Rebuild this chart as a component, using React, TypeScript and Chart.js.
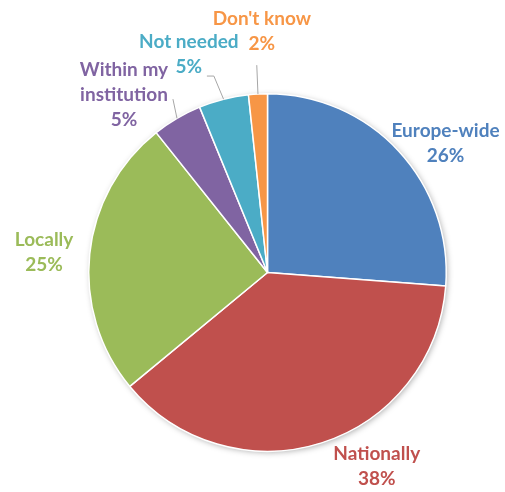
import React, { useEffect, useRef } from "react";
import { Chart, registerables } from "chart.js";

Chart.register(...registerables);

const categories = ["Europe-wide", "Nationally", "Locally", "Within my institution", "Not needed", "Don't know"];
const labelLines = [["Europe-wide"], ["Nationally"], ["Locally"], ["Within my", "institution"], ["Not needed"], ["Don't know"]];
const values = [26.2, 37.8, 25.3, 4.5, 4.5, 1.7];
const colors = ["#4F81BD", "#C0504D", "#9BBB59", "#8064A2", "#4BACC6", "#F79646"];

// label block centres, in units of the pie radius, relative to the pie centre
const labelLayout = [
  [0.996, -0.725],
  [0.611, 1.085],
  [-1.25, -0.11],
  [-0.803, -0.993],
  [-0.44, -1.222],
  [-0.032, -1.35],
];
// leader line points (radius units) from slice edge outwards; empty = none
const leaderLayout: number[][][] = [
  [],
  [],
  [],
  [[-0.529, -0.97]],
  [[-0.3, -1.099], [-0.339, -1.099]],
  [[-0.06, -1.16]],
];

const FONT = "bold 19px Lato";
const LINE_H = 25;

const labelPlugin = {
  id: "pieLabels",
  beforeDatasetsDraw(chart: any) {
    const meta = chart.getDatasetMeta(0);
    const a = meta.data[0];
    if (!a) return;
    const { x, y, outerRadius } = a.getProps(["x", "y", "outerRadius"], true);
    const ctx = chart.ctx;
    ctx.save();
    ctx.shadowColor = "rgba(0,0,0,0.35)";
    ctx.shadowBlur = 6;
    ctx.shadowOffsetX = 1.5;
    ctx.shadowOffsetY = 1.5;
    ctx.fillStyle = "#ffffff";
    ctx.beginPath();
    ctx.arc(x, y, outerRadius - 0.5, 0, Math.PI * 2);
    ctx.fill();
    ctx.restore();
  },
  afterDatasetsDraw(chart: any) {
    const meta = chart.getDatasetMeta(0);
    const ctx = chart.ctx;
    const total = values.reduce((s, v) => s + v, 0);
    ctx.save();
    meta.data.forEach((arc: any, i: number) => {
      const { x, y, startAngle, endAngle, outerRadius } = arc.getProps(
        ["x", "y", "startAngle", "endAngle", "outerRadius"],
        true
      );
      const R = outerRadius;
      const mid = (startAngle + endAngle) / 2;
      const pts = leaderLayout[i];
      if (pts.length) {
        ctx.strokeStyle = "#A6A6A6";
        ctx.lineWidth = 1;
        ctx.beginPath();
        ctx.moveTo(x + Math.cos(mid) * R, y + Math.sin(mid) * R);
        pts.forEach((p) => ctx.lineTo(x + p[0] * R, y + p[1] * R));
        ctx.stroke();
      }
      const lines = [...labelLines[i], Math.round((values[i] / total) * 100) + "%"];
      const cx = x + labelLayout[i][0] * R;
      const cy = y + labelLayout[i][1] * R;
      ctx.font = FONT;
      ctx.fillStyle = colors[i];
      ctx.textAlign = "center";
      ctx.textBaseline = "middle";
      lines.forEach((t, k) => {
        ctx.fillText(t, cx, cy + (k - (lines.length - 1) / 2) * LINE_H);
      });
    });
    ctx.restore();
  },
};

export default function App() {
  const ref = useRef<HTMLCanvasElement>(null);
  useEffect(() => {
    if (!ref.current) return;
    const chart = new Chart(ref.current, {
      type: "pie",
      data: {
        labels: categories,
        datasets: [
          {
            data: values,
            backgroundColor: colors,
            borderColor: "#ffffff",
            borderWidth: 1.5,
          },
        ],
      },
      options: {
        responsive: true,
        maintainAspectRatio: false,
        animation: false,
        layout: { padding: { left: 88, right: 58, top: 93, bottom: 40 } },
        plugins: {
          legend: { display: false },
          tooltip: { enabled: false },
        },
      },
      plugins: [labelPlugin],
    });
    return () => chart.destroy();
  }, []);
  return (
    <div style={{ position: "fixed", left: 0, top: 0, width: 505, height: 492, background: "#fff" }}>
      <canvas ref={ref} />
    </div>
  );
}
